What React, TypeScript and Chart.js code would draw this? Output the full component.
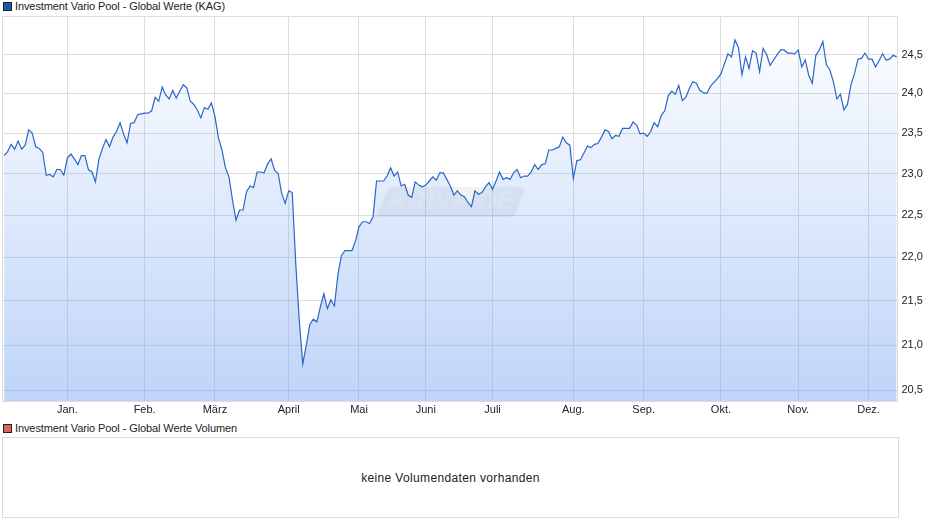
import React, { useEffect, useRef } from 'react';
import { Chart, registerables } from 'chart.js';

Chart.register(...registerables);

const seriesName = 'Investment Vario Pool - Global Werte (KAG)';
const volumeName = 'Investment Vario Pool - Global Werte Volumen';
const noVolumeText = 'keine Volumendaten vorhanden';

// month labels and the trading day index they sit on
const monthLabels = ['Jan.', 'Feb.', 'März', 'April', 'Mai', 'Juni', 'Juli', 'Aug.', 'Sep.', 'Okt.', 'Nov.', 'Dez.'];
const monthIndex = [18, 40, 60, 81, 101, 120, 139, 162, 182, 204, 226, 246];

const priceTicks = [20.5, 21, 21.5, 22, 22.5, 23, 23.5, 24, 24.5];

// one value per trading day
const prices = [
  23.22, 23.27, 23.36, 23.30, 23.40, 23.30, 23.35, 23.54, 23.50, 23.33,
  23.31, 23.26, 22.98, 22.99, 22.96, 23.05, 23.05, 22.98, 23.19, 23.24,
  23.18, 23.11, 23.22, 23.22, 23.05, 23.02, 22.90, 23.18, 23.31, 23.42,
  23.33, 23.45, 23.52, 23.63, 23.49, 23.38, 23.62, 23.63, 23.73, 23.74,
  23.75, 23.75, 23.78, 23.95, 23.90, 24.08, 23.98, 23.93, 24.04, 23.94,
  24.03, 24.11, 24.07, 23.90, 23.86, 23.79, 23.69, 23.82, 23.80, 23.88,
  23.71, 23.44, 23.29, 23.07, 22.96, 22.68, 22.44, 22.56, 22.56, 22.78,
  22.85, 22.83, 23.02, 23.02, 23.01, 23.12, 23.18, 23.04, 23.00, 22.76,
  22.64, 22.79, 22.77,
  21.93, 21.28, 20.79, 21.00, 21.23, 21.29, 21.26, 21.43, 21.58, 21.41,
  21.51, 21.44, 21.80, 22.02, 22.08, 22.08, 22.08, 22.19, 22.36, 22.42,
  22.42, 22.40, 22.48, 22.91, 22.91, 22.91, 22.97, 23.07, 22.97, 23.02,
  22.85, 22.87, 22.74, 22.71, 22.90, 22.86, 22.84, 22.86, 22.91, 22.96,
  22.92, 23.01, 23.01, 22.93, 22.85, 22.74, 22.79, 22.74, 22.72, 22.65,
  22.60, 22.79, 22.75, 22.77, 22.84, 22.89, 22.81, 22.91, 23.02, 22.93,
  22.95, 22.93, 23.01, 23.05, 22.95, 22.97, 22.97, 23.02, 23.11, 23.05,
  23.11, 23.12, 23.29, 23.29, 23.31, 23.33, 23.45, 23.38, 23.35, 22.94,
  23.16, 23.17, 23.25, 23.34, 23.32, 23.36, 23.37, 23.45, 23.54, 23.52,
  23.43, 23.47, 23.46, 23.56, 23.56, 23.56, 23.64, 23.60, 23.49, 23.50,
  23.46, 23.52, 23.63, 23.58, 23.72, 23.78, 23.97, 24.03, 23.99, 24.10,
  23.91, 23.95, 24.06, 24.15, 24.13, 24.04, 24.01, 24.00, 24.09, 24.14,
  24.19, 24.25, 24.38, 24.51, 24.47, 24.69, 24.59, 24.24, 24.47, 24.32,
  24.55, 24.52, 24.28, 24.58, 24.50, 24.36, 24.43, 24.50, 24.56, 24.56,
  24.52, 24.52, 24.51, 24.56, 24.34, 24.43, 24.23, 24.13, 24.49, 24.56,
  24.67, 24.37, 24.30, 24.15, 23.93, 23.99, 23.79, 23.86, 24.11, 24.25,
  24.44, 24.45, 24.52, 24.44, 24.44, 24.34, 24.42, 24.51, 24.43, 24.44,
  24.49, 24.47,
];

const FONT = '"Liberation Sans", Arial, sans-serif';

// frame around the plot plus the faint ARIVA.DE stamp behind the line
const backdropPlugin = {
  id: 'backdrop',
  beforeDatasetsDraw(chart: Chart) {
    const { ctx } = chart;
    ctx.save();
    ctx.beginPath();
    ctx.moveTo(390, 187);
    ctx.lineTo(520, 187);
    ctx.quadraticCurveTo(526, 187, 524, 192);
    ctx.lineTo(516, 212);
    ctx.quadraticCurveTo(514, 217, 509, 217);
    ctx.lineTo(381, 217);
    ctx.quadraticCurveTo(376, 217, 378, 212);
    ctx.lineTo(386, 192);
    ctx.quadraticCurveTo(388, 187, 393, 187);
    ctx.closePath();
    ctx.fillStyle = 'rgba(60, 60, 60, 0.07)';
    ctx.fill();
    ctx.font = `italic bold 27px ${FONT}`;
    ctx.fillStyle = 'rgba(255, 255, 255, 0.3)';
    ctx.textAlign = 'center';
    ctx.textBaseline = 'middle';
    ctx.fillText('ARIVA.DE', 451, 203);
    ctx.restore();
  },
  afterDraw(chart: Chart) {
    const { ctx, chartArea } = chart;
    ctx.save();
    ctx.strokeStyle = '#dcdcdc';
    ctx.lineWidth = 1;
    ctx.strokeRect(chartArea.left, chartArea.top, chartArea.right - chartArea.left, chartArea.bottom - chartArea.top);
    ctx.restore();
  },
};

function Swatch({ top, color }: { top: number; color: string }) {
  return (
    <div
      style={{
        position: 'absolute',
        left: 3,
        top,
        width: 7,
        height: 7,
        background: color,
        border: '1px solid #222',
      }}
    />
  );
}

function Caption({ top, text }: { top: number; text: string }) {
  return (
    <div
      style={{
        position: 'absolute',
        left: 15,
        top,
        fontSize: 11,
        letterSpacing: '-0.1px',
        lineHeight: '13px',
        color: '#222',
        whiteSpace: 'nowrap',
      }}
    >
      {text}
    </div>
  );
}

export default function App() {
  const canvasRef = useRef<HTMLCanvasElement | null>(null);

  useEffect(() => {
    document.body.style.margin = '0';
    if (!canvasRef.current) return;

    const chart = new Chart(canvasRef.current, {
      type: 'line',
      data: {
        datasets: [
          {
            data: prices.map((y, x) => ({ x, y })),
            borderColor: '#2b66c6',
            borderWidth: 1.2,
            pointRadius: 0,
            tension: 0,
            fill: 'start',
            backgroundColor: (c: any) => {
              const area = c.chart.chartArea;
              if (!area) return 'transparent';
              const g = c.chart.ctx.createLinearGradient(0, area.top, 0, area.bottom);
              g.addColorStop(0, 'rgba(125, 169, 241, 0)');
              g.addColorStop(1, 'rgba(125, 169, 241, 0.5)');
              return g;
            },
          },
        ],
      },
      options: {
        animation: false,
        responsive: false,
        layout: { padding: { top: 16.5, left: 2.5 } },
        plugins: { legend: { display: false }, tooltip: { enabled: false } },
        scales: {
          x: {
            type: 'linear',
            min: -0.45,
            max: 254.25,
            afterBuildTicks: (scale: any) => {
              scale.ticks = monthIndex.map((value) => ({ value }));
            },
            afterFit: (scale: any) => {
              scale.height = 18.5;
            },
            grid: { color: '#dcdcdc', lineWidth: 1, drawTicks: false },
            border: { display: false },
            ticks: {
              autoSkip: false,
              maxRotation: 0,
              padding: 2,
              color: '#222',
              font: { family: FONT, size: 11 },
              callback: (v: any) => monthLabels[monthIndex.indexOf(Number(v))],
            },
          },
          y: {
            type: 'logarithmic',
            position: 'right',
            min: 20.38,
            max: 25.0,
            afterBuildTicks: (scale: any) => {
              scale.ticks = priceTicks.map((value) => ({ value }));
            },
            afterFit: (scale: any) => {
              scale.width = 42.5;
            },
            grid: { color: '#dcdcdc', lineWidth: 1, drawTicks: false },
            border: { display: false },
            ticks: {
              autoSkip: false,
              padding: 4,
              color: '#222',
              font: { family: FONT, size: 11 },
              callback: (v: any) => Number(v).toFixed(1).replace('.', ','),
            },
          },
        },
      },
      plugins: [backdropPlugin],
    });

    return () => {
      chart.destroy();
    };
  }, []);

  return (
    <div style={{ position: 'relative', width: 940, height: 526, fontFamily: FONT, overflow: 'hidden', background: '#fff' }}>
      <Swatch top={2} color="#1a56b4" />
      <Caption top={0} text={seriesName} />
      <canvas ref={canvasRef} width={940} height={420} style={{ position: 'absolute', left: 0, top: 0 }} />
      <Swatch top={424} color="#d96464" />
      <Caption top={422} text={volumeName} />
      <div
        style={{
          position: 'absolute',
          left: 2,
          top: 437,
          width: 895,
          height: 79,
          border: '1px solid #dcdcdc',
          display: 'flex',
          alignItems: 'center',
          justifyContent: 'center',
          fontSize: 12,
          letterSpacing: '0.35px',
          color: '#222',
        }}
      >
        {noVolumeText}
      </div>
    </div>
  );
}
